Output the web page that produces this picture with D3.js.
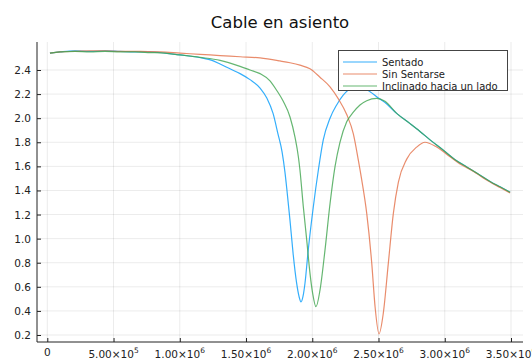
<!DOCTYPE html>
<html><head><meta charset="utf-8">
<script src="https://cdn.jsdelivr.net/npm/d3@7"></script>
<style>body{margin:0;background:#fff}svg{display:block}text{font-family:"DejaVu Sans",sans-serif}</style>
</head><body><svg id="c" width="532" height="361"></svg>
<script>
const title = "Cable en asiento";
const seriesNames = ["Sentado", "Sin Sentarse", "Inclinado hacia un lado"];
const seriesColors = ["#009AFA", "#E36F47", "#3EA44E"];
const yTicks = [0.2,0.4,0.6,0.8,1.0,1.2,1.4,1.6,1.8,2.0,2.2,2.4];
const xTicks = [0,5e5,1e6,1.5e6,2e6,2.5e6,3e6,3.5e6];
const xTickMant = ["0","5.00","1.00","1.50","2.00","2.50","3.00","3.50"];
const xTickExp = ["","5","6","6","6","6","6","6"];

const sentado = [[20000,2.54],[96000,2.55],[209000,2.56],[322000,2.555],[435000,2.56],[549000,2.555],[662000,2.55],[775000,2.55],[888000,2.54],[1002000,2.525],[1115000,2.51],[1190000,2.495],[1243000,2.48],[1304000,2.45],[1379000,2.41],[1455000,2.37],[1530000,2.32],[1606000,2.25],[1658000,2.165],[1704000,2.04],[1741000,1.87],[1772000,1.72],[1794000,1.55],[1809000,1.40],[1832000,1.15],[1855000,0.88],[1882000,0.63],[1900000,0.52],[1915000,0.475],[1930000,0.52],[1945000,0.63],[1970000,0.91],[2008000,1.265],[2046000,1.57],[2083000,1.82],[2134000,2.0],[2184000,2.11],[2232000,2.19],[2285000,2.24],[2360000,2.255],[2436000,2.22],[2496000,2.17],[2549000,2.13],[2637000,2.04],[2738000,1.955],[2813000,1.89],[2889000,1.82],[2987000,1.736],[3078000,1.655],[3166000,1.595],[3241000,1.545],[3342000,1.475],[3417000,1.43],[3493000,1.385]];
const sinSentarse = [[20000,2.54],[96000,2.55],[209000,2.555],[322000,2.56],[435000,2.56],[549000,2.555],[700000,2.555],[851000,2.55],[1002000,2.54],[1153000,2.53],[1304000,2.52],[1455000,2.51],[1606000,2.50],[1756000,2.475],[1832000,2.46],[1907000,2.44],[1983000,2.41],[2058000,2.34],[2134000,2.26],[2197000,2.16],[2260000,2.03],[2310000,1.87],[2348000,1.65],[2373000,1.49],[2411000,1.21],[2449000,0.795],[2474000,0.435],[2504000,0.21],[2536000,0.38],[2574000,0.795],[2612000,1.21],[2650000,1.47],[2713000,1.66],[2788000,1.76],[2851000,1.80],[2939000,1.76],[3040000,1.68],[3115000,1.62],[3191000,1.575],[3241000,1.54],[3342000,1.47],[3417000,1.425],[3493000,1.38]];
const inclinado = [[20000,2.54],[96000,2.55],[209000,2.555],[322000,2.55],[435000,2.555],[549000,2.55],[662000,2.55],[775000,2.545],[888000,2.54],[1002000,2.525],[1153000,2.505],[1304000,2.48],[1455000,2.43],[1530000,2.40],[1606000,2.37],[1681000,2.31],[1732000,2.23],[1781000,2.14],[1832000,2.01],[1870000,1.84],[1895000,1.68],[1907000,1.57],[1932000,1.27],[1958000,0.99],[1983000,0.71],[2003000,0.546],[2028000,0.435],[2058000,0.57],[2096000,0.905],[2134000,1.29],[2172000,1.6],[2209000,1.8],[2260000,1.97],[2310000,2.05],[2360000,2.11],[2411000,2.145],[2486000,2.165],[2549000,2.14],[2637000,2.04],[2738000,1.955],[2813000,1.89],[2889000,1.82],[2987000,1.736],[3078000,1.655],[3166000,1.595],[3241000,1.545],[3342000,1.475],[3417000,1.43],[3493000,1.385]];

const svg = d3.select("#c");
const L = 37, R = 523, T = 42, B = 342;
const x = d3.scaleLinear().domain([0, 3.5e6]).range([47.3, 511]);
const y = d3.scaleLinear().domain([0.2, 2.4]).range([335, 70]);

// grid
const g = svg.append("g");
g.selectAll("line.vx").data(xTicks).join("line")
  .attr("x1", d => x(d)).attr("x2", d => x(d)).attr("y1", T).attr("y2", B)
  .attr("stroke", "#000").attr("stroke-opacity", 0.08).attr("stroke-width", 1);
g.selectAll("line.hy").data(yTicks).join("line")
  .attr("y1", d => y(d)).attr("y2", d => y(d)).attr("x1", L).attr("x2", R)
  .attr("stroke", "#000").attr("stroke-opacity", 0.08).attr("stroke-width", 1);

// axes
const axY = svg.append("g").attr("transform", `translate(${L},0)`)
  .call(d3.axisRight(y).tickValues(yTicks).tickSize(4).tickFormat(""));
axY.select(".domain").remove();
axY.selectAll("line").attr("stroke", "#222");
const axX = svg.append("g").attr("transform", `translate(0,${B})`)
  .call(d3.axisTop(x).tickValues(xTicks).tickSize(4).tickFormat(""));
axX.select(".domain").remove();
axX.selectAll("line").attr("stroke", "#222");
svg.append("line").attr("x1", L).attr("x2", L).attr("y1", T).attr("y2", B).attr("stroke", "#222");
svg.append("line").attr("x1", L).attr("x2", R).attr("y1", B).attr("y2", B).attr("stroke", "#222");

// y tick labels
svg.selectAll("text.yl").data(yTicks).join("text")
  .attr("x", 31).attr("y", d => y(d) + 4).attr("text-anchor", "end")
  .attr("font-size", 10.5).attr("fill", "#222").text(d => d.toFixed(1));

// x tick labels
xTicks.forEach((v, i) => {
  const t = svg.append("text").attr("x", x(v)).attr("y", 358).attr("text-anchor", "middle")
    .attr("font-size", 10.5).attr("fill", "#222");
  if (xTickExp[i] === "") { t.attr("y", 356).text(xTickMant[i]); }
  else {
    t.append("tspan").text(xTickMant[i] + "×10");
    t.append("tspan").attr("dy", -5).attr("font-size", 7.5).text(xTickExp[i]);
  }
});

// title
svg.append("text").attr("x", (L + R) / 2).attr("y", 28).attr("text-anchor", "middle")
  .attr("font-size", 16.5).attr("fill", "#111").text(title);

// lines
svg.append("clipPath").attr("id", "clip").append("rect").attr("x", L).attr("y", T).attr("width", R - L).attr("height", B - T);
const line = d3.line().x(d => x(d[0])).y(d => y(d[1])).curve(d3.curveMonotoneX);
const allSeries = [sentado, sinSentarse, inclinado];
svg.append("g").attr("clip-path", "url(#clip)").selectAll("path").data(allSeries).join("path")
  .attr("d", line).attr("fill", "none")
  .attr("stroke", (d, i) => seriesColors[i]).attr("stroke-width", 1.2).attr("stroke-opacity", 0.8);

// legend
const lg = svg.append("g");
lg.append("rect").attr("x", 338.5).attr("y", 50.5).attr("width", 169).attr("height", 40)
  .attr("fill", "#fff").attr("stroke", "#444").attr("stroke-width", 1);
seriesNames.forEach((n, i) => {
  const yy = 62 + i * 12;
  lg.append("line").attr("x1", 343).attr("x2", 377).attr("y1", yy).attr("y2", yy)
    .attr("stroke", seriesColors[i]).attr("stroke-width", 1.2).attr("stroke-opacity", 0.8);
  lg.append("text").attr("x", 382).attr("y", yy + 3.5).attr("font-size", 10).attr("fill", "#222").text(n);
});
</script></body></html>
